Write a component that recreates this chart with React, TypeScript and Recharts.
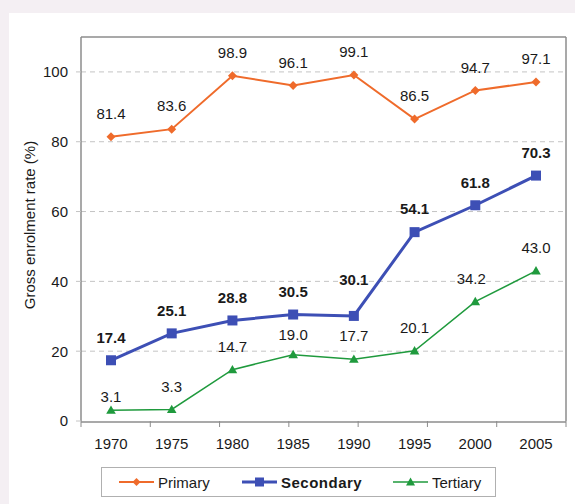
import {
  LineChart,
  Line,
  XAxis,
  YAxis,
  CartesianGrid,
  LabelList,
  Label,
} from 'recharts';

const years = ['1970', '1975', '1980', '1985', '1990', '1995', '2000', '2005'];
const primary = [81.4, 83.6, 98.9, 96.1, 99.1, 86.5, 94.7, 97.1];
const secondary = [17.4, 25.1, 28.8, 30.5, 30.1, 54.1, 61.8, 70.3];
const tertiary = [3.1, 3.3, 14.7, 19.0, 17.7, 20.1, 34.2, 43.0];
const yTicks = [0, 20, 40, 60, 80, 100];
const bandEdges = [0, 1, 2, 3, 4, 5, 6, 7, 8];

const data = years.map((year, i) => ({
  year,
  primary: primary[i],
  secondary: secondary[i],
  tertiary: tertiary[i],
}));

const colors = {
  primary: '#ef6b2b',
  secondary: '#3d4fb5',
  tertiary: '#1f9a3d',
  axis: '#8c8c8c',
  grid: '#c4c4c4',
  text: '#1a1a1a',
};

const FONT = '"Liberation Sans", Arial, sans-serif';

// a few labels sit off the usual spot in the original
const labelNudge: Record<string, [number, number]> = {
  'secondary-4': [0, -13],
  'tertiary-0': [0, 10],
  'tertiary-3': [0, 3],
  'tertiary-6': [-4, 0],
};

const makeLabel = (series: string, bold: boolean) => (props: any) => {
  const { x, y, value, index } = props;
  const [dx, dy] = labelNudge[`${series}-${index}`] || [0, 0];
  return (
    <text
      x={x + dx}
      y={y - 23 + dy}
      dy="0.35em"
      textAnchor="middle"
      fontSize={15}
      fontFamily={FONT}
      fontWeight={bold ? 'bold' : 'normal'}
      fill={colors.text}
    >
      {Number(value).toFixed(1)}
    </text>
  );
};

const Diamond = ({ cx, cy, size = 4, color }: any) => (
  <path
    d={`M${cx},${cy - size}L${cx + size},${cy}L${cx},${cy + size}L${cx - size},${cy}Z`}
    fill={color}
  />
);

const Square = ({ cx, cy, size = 5, color }: any) => (
  <rect x={cx - size} y={cy - size} width={size * 2} height={size * 2} fill={color} />
);

const Triangle = ({ cx, cy, size = 4.5, color }: any) => (
  <path
    d={`M${cx},${cy - size}L${cx + size},${cy + size * 0.75}L${cx - size},${cy + size * 0.75}Z`}
    fill={color}
  />
);

function LegendBox() {
  const items = [
    { name: 'Primary', left: 17, Marker: Diamond, color: colors.primary, w: 2, bold: false, size: 4 },
    { name: 'Secondary', left: 140, Marker: Square, color: colors.secondary, w: 3, bold: true, size: 4.5 },
    { name: 'Tertiary', left: 291, Marker: Triangle, color: colors.tertiary, w: 1.5, bold: false, size: 4.5 },
  ];
  return (
    <div
      style={{
        position: 'absolute',
        left: 101,
        top: 467,
        width: 393,
        height: 28,
        border: '1px solid #b0b0b0',
        background: '#fff',
        fontFamily: FONT,
        fontSize: 15,
        color: colors.text,
      }}
    >
      {items.map(({ name, left, Marker, color, w, bold, size }) => (
        <div
          key={name}
          style={{ position: 'absolute', left, top: 0, height: 28, display: 'flex', alignItems: 'center' }}
        >
          <svg width={36} height={14}>
            <line x1={0} y1={7} x2={35} y2={7} stroke={color} strokeWidth={w} />
            <Marker cx={17.5} cy={7} size={size} color={color} />
          </svg>
          <span style={{ marginLeft: 3, fontWeight: bold ? 'bold' : 'normal', letterSpacing: bold ? 0.5 : 0 }}>
            {name}
          </span>
        </div>
      ))}
    </div>
  );
}

const axisLine = { stroke: colors.axis, strokeWidth: 1.5 };
const noLabel = { fontSize: 1, fill: 'none' };
const blank = () => '';

export default function App() {
  return (
    <div
      style={{
        position: 'absolute',
        left: 0,
        top: 0,
        width: 575,
        height: 504,
        background: '#f4eff3',
        overflow: 'hidden',
      }}
    >
      <div style={{ position: 'absolute', left: 9, top: 13, right: 0, bottom: 0, background: '#fff' }} />
      <div style={{ position: 'absolute', left: 0, top: 0 }}>
        <LineChart
          width={575}
          height={504}
          data={data}
          margin={{ top: 36, right: 8, left: 0, bottom: 52 }}
        >
          <CartesianGrid
            xAxisId="years"
            vertical={false}
            horizontalValues={yTicks.slice(1)}
            stroke={colors.grid}
            strokeDasharray="5 4"
          />
          {/* tick marks sit between the categories, as in the original */}
          <XAxis
            xAxisId="edges"
            type="number"
            domain={[0, 8]}
            allowDataOverflow
            ticks={bandEdges}
            interval={0}
            tick={noLabel}
            tickFormatter={blank}
            axisLine={false}
            tickLine={{ stroke: colors.axis }}
            tickSize={6}
            height={1}
          />
          <XAxis
            xAxisId="years"
            dataKey="year"
            padding={{ left: 30, right: 30 }}
            tickLine={false}
            axisLine={axisLine}
            tickSize={6}
            tickMargin={10}
            height={30}
            tick={{ fontSize: 15, fontFamily: FONT, fill: colors.text }}
          />
          <XAxis
            xAxisId="top"
            orientation="top"
            type="number"
            domain={[0, 8]}
            allowDataOverflow
            ticks={bandEdges}
            tick={noLabel}
            tickFormatter={blank}
            tickLine={false}
            axisLine={axisLine}
            height={1}
          />
          <YAxis
            width={81}
            domain={[0, 110]}
            ticks={yTicks}
            interval={0}
            axisLine={axisLine}
            tickLine={{ stroke: colors.grid, strokeDasharray: '5 4' }}
            tickSize={5}
            tickMargin={8}
            tick={{ fontSize: 15, fontFamily: FONT, fill: colors.text }}
          >
            <Label
              content={(props: any) => {
                const vb = props.viewBox;
                const cx = 30;
                const cy = vb.y + vb.height / 2 - 4;
                return (
                  <text
                    x={cx}
                    y={cy}
                    transform={`rotate(-90, ${cx}, ${cy})`}
                    textAnchor="middle"
                    dy="0.35em"
                    fontSize={15}
                    fontFamily={FONT}
                    fill={colors.text}
                  >
                    Gross enrolment rate (%)
                  </text>
                );
              }}
            />
          </YAxis>
          <YAxis
            yAxisId="right"
            orientation="right"
            type="number"
            domain={[0, 110]}
            allowDataOverflow
            ticks={yTicks}
            tick={noLabel}
            tickFormatter={blank}
            tickLine={false}
            width={1}
            axisLine={axisLine}
          />
          <Line
            xAxisId="years"
            dataKey="primary"
            stroke={colors.primary}
            strokeWidth={2}
            isAnimationActive={false}
            dot={(p: any) => <Diamond key={`p${p.index}`} cx={p.cx} cy={p.cy} size={4.5} color={colors.primary} />}
            activeDot={false}
          >
            <LabelList dataKey="primary" content={makeLabel('primary', false)} />
          </Line>
          <Line
            xAxisId="years"
            dataKey="secondary"
            stroke={colors.secondary}
            strokeWidth={3}
            isAnimationActive={false}
            dot={(p: any) => <Square key={`s${p.index}`} cx={p.cx} cy={p.cy} size={5} color={colors.secondary} />}
            activeDot={false}
          >
            <LabelList dataKey="secondary" content={makeLabel('secondary', true)} />
          </Line>
          <Line
            xAxisId="years"
            dataKey="tertiary"
            stroke={colors.tertiary}
            strokeWidth={1.5}
            isAnimationActive={false}
            dot={(p: any) => <Triangle key={`t${p.index}`} cx={p.cx} cy={p.cy} size={4.8} color={colors.tertiary} />}
            activeDot={false}
          >
            <LabelList dataKey="tertiary" content={makeLabel('tertiary', false)} />
          </Line>
        </LineChart>
      </div>
      <LegendBox />
    </div>
  );
}
